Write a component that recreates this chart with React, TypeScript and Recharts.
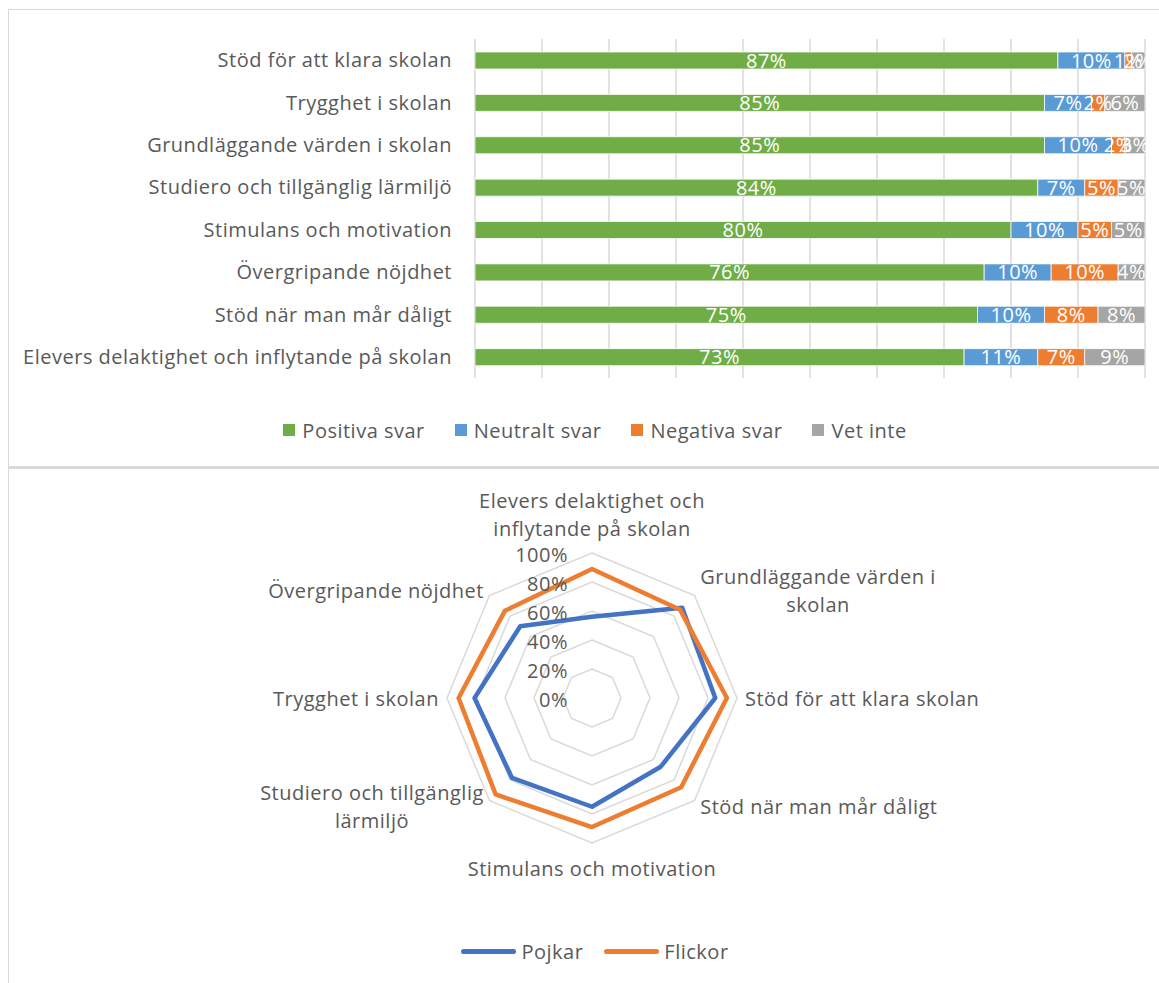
import React from "react";
import {
  Bar,
  BarChart,
  CartesianGrid,
  LabelList,
  PolarAngleAxis,
  PolarGrid,
  PolarRadiusAxis,
  Radar,
  RadarChart,
  XAxis,
  YAxis,
} from "recharts";

const FONT = '"Open Sans", "Liberation Sans", sans-serif';
const FS = 20;
const LS = 0.5;
const TEXT = "#595959";
const GRID = "#d9d9d9";

// --- stacked bar chart data (top to bottom) ---
const barCategories = [
  "Stöd för att klara skolan",
  "Trygghet i skolan",
  "Grundläggande värden i skolan",
  "Studiero och tillgänglig lärmiljö",
  "Stimulans och motivation",
  "Övergripande nöjdhet",
  "Stöd när man mår dåligt",
  "Elevers delaktighet och inflytande på skolan",
];
const positiva = [87, 85, 85, 84, 80, 76, 75, 73];
const neutralt = [10, 7, 10, 7, 10, 10, 10, 11];
const negativa = [1, 2, 2, 5, 5, 10, 8, 7];
const vetInte = [2, 6, 3, 5, 5, 4, 8, 9];
const xTicks = [0, 10, 20, 30, 40, 50, 60, 70, 80, 90, 100];

const barSeries = [
  { key: "positiva", name: "Positiva svar", color: "#70AD47" },
  { key: "neutralt", name: "Neutralt svar", color: "#5B9BD5" },
  { key: "negativa", name: "Negativa svar", color: "#ED7D31" },
  { key: "vetInte", name: "Vet inte", color: "#A5A5A5" },
];

// --- radar chart data (clockwise from top) ---
const radarCategories = [
  "Elevers delaktighet och inflytande på skolan",
  "Grundläggande värden i skolan",
  "Stöd för att klara skolan",
  "Stöd när man mår dåligt",
  "Stimulans och motivation",
  "Studiero och tillgänglig lärmiljö",
  "Trygghet i skolan",
  "Övergripande nöjdhet",
];
const pojkar = [56, 88, 85, 67, 75, 78, 81, 70];
const flickor = [89, 86, 93, 87, 89, 94, 92, 85];
const radarTicks = [0, 20, 40, 60, 80, 100];

// how the long axis labels wrap
const radarLabelLines: Record<string, string[]> = {
  "Elevers delaktighet och inflytande på skolan": [
    "Elevers delaktighet och",
    "inflytande på skolan",
  ],
  "Grundläggande värden i skolan": ["Grundläggande värden i", "skolan"],
  "Studiero och tillgänglig lärmiljö": ["Studiero och tillgänglig", "lärmiljö"],
};

const radarSeries = [
  { key: "pojkar", name: "Pojkar", color: "#4472C4" },
  { key: "flickor", name: "Flickor", color: "#ED7D31" },
];

const barData = barCategories.map((name, i) => ({
  name,
  positiva: positiva[i],
  neutralt: neutralt[i],
  negativa: negativa[i],
  vetInte: vetInte[i],
}));

const radarData = radarCategories.map((name, i) => ({
  name,
  pojkar: pojkar[i],
  flickor: flickor[i],
}));

let ctx: CanvasRenderingContext2D | null = null;
const measure = (t: string) => {
  if (!ctx) ctx = document.createElement("canvas").getContext("2d");
  if (!ctx) return t.length * FS * 0.5;
  ctx.font = `${FS}px ${FONT}`;
  return ctx.measureText(t).width + t.length * LS;
};

const AngleTick = (props: any) => {
  const { x, y, payload, textAnchor } = props;
  const lines = radarLabelLines[payload.value] ?? [payload.value];
  const lh = 28;
  const w = Math.max(...lines.map(measure));
  let mid = x;
  if (textAnchor === "start") mid = x + w / 2;
  if (textAnchor === "end") mid = x - w / 2;
  const s = Math.sin(((payload.coordinate ?? 0) * Math.PI) / 180);
  let y0 = y - ((lines.length - 1) * lh) / 2;
  if (s > 0.99) y0 = y - 17 - (lines.length - 1) * lh;
  if (s < -0.99) y0 = y + 17;
  return (
    <text
      textAnchor="middle"
      fill={TEXT}
      fontSize={FS}
      fontFamily={FONT}
      dominantBaseline="central"
    >
      {lines.map((l: string, i: number) => (
        <tspan key={i} x={mid} y={y0 + i * lh}>
          {l}
        </tspan>
      ))}
    </text>
  );
};

const RadiusTick = (props: any) => {
  const { x, y, payload } = props;
  return (
    <text
      x={x - 24}
      y={y + 1}
      textAnchor="end"
      dominantBaseline="central"
      fill={TEXT}
      fontSize={FS}
      fontFamily={FONT}
    >
      {payload.value}%
    </text>
  );
};

const boxStyle: React.CSSProperties = {
  position: "absolute",
  left: 0,
  width: 1174,
  border: `1px solid ${GRID}`,
  boxSizing: "border-box",
  background: "#fff",
};

export default function App() {
  return (
    <div
      style={{
        position: "absolute",
        left: 8,
        top: 8,
        width: 1151,
        height: 975,
        overflow: "hidden",
        fontFamily: FONT,
        letterSpacing: LS,
      }}
    >
      <div style={{ ...boxStyle, top: 1, height: 459, borderBottomWidth: 2 }} />
      <div style={{ ...boxStyle, top: 460, height: 600 }} />

      <div style={{ position: "absolute", left: 0, top: 0 }}>
        <BarChart
          layout="vertical"
          width={1174}
          height={460}
          data={barData}
          margin={{ top: 31, right: 37, bottom: 90, left: 0 }}
          barSize={17}
        >
          <CartesianGrid horizontal={false} stroke={GRID} strokeWidth={1.5} />
          <XAxis
            type="number"
            domain={[0, 100]}
            ticks={xTicks}
            allowDataOverflow
            hide
          />
          <YAxis
            type="category"
            dataKey="name"
            width={467}
            axisLine={false}
            tickLine={false}
            tickMargin={17}
            interval={0}
            tick={{ fill: TEXT, fontSize: FS, fontFamily: FONT }}
          />
          {barSeries.map((s) => (
            <Bar
              key={s.key}
              dataKey={s.key}
              name={s.name}
              stackId="a"
              fill={s.color}
              stroke="#fff"
              strokeWidth={0.75}
              isAnimationActive={false}
            >
              <LabelList
                dataKey={s.key}
                position="center"
                formatter={(v: any) => `${v}%`}
                fill="#fff"
                fontSize={FS}
                fontFamily={FONT}
              />
            </Bar>
          ))}
        </BarChart>
      </div>

      <div
        style={{
          position: "absolute",
          left: 0,
          top: 410,
          width: 1174,
          height: 24,
          display: "flex",
          justifyContent: "center",
          alignItems: "center",
          color: TEXT,
          fontSize: FS,
        }}
      >
        {barSeries.map((s, i) => (
          <div
            key={s.key}
            style={{
              display: "flex",
              alignItems: "center",
              marginLeft: i === 0 ? 0 : 30,
            }}
          >
            <span
              style={{
                width: 12,
                height: 12,
                background: s.color,
                marginRight: 7,
                display: "inline-block",
              }}
            />
            <span>{s.name}</span>
          </div>
        ))}
      </div>

      <div style={{ position: "absolute", left: 0, top: 460 }}>
        <RadarChart
          width={1174}
          height={515}
          data={radarData}
          cx={584}
          cy={230}
          outerRadius={145}
          startAngle={90}
          endAngle={-270}
          margin={{ top: 0, right: 0, bottom: 0, left: 0 }}
        >
          <PolarGrid
            gridType="polygon"
            radialLines={false}
            stroke={GRID}
            strokeWidth={1.5}
          />
          <PolarAngleAxis
            dataKey="name"
            tick={<AngleTick />}
            tickLine={false}
            axisLine={false}
          />
          <PolarRadiusAxis
            angle={90}
            domain={[0, 100]}
            ticks={radarTicks as any}
            tickCount={6}
            tick={<RadiusTick />}
            axisLine={false}
            tickLine={false}
          />
          {radarSeries.map((s) => (
            <Radar
              key={s.key}
              dataKey={s.key}
              name={s.name}
              stroke={s.color}
              strokeWidth={4.5}
              strokeLinejoin="round"
              fill="none"
              fillOpacity={0}
              dot={false}
              isAnimationActive={false}
            />
          ))}
        </RadarChart>
      </div>

      <div
        style={{
          position: "absolute",
          left: 0,
          top: 931,
          width: 1174,
          height: 24,
          display: "flex",
          justifyContent: "center",
          alignItems: "center",
          color: TEXT,
          fontSize: FS,
        }}
      >
        {radarSeries.map((s, i) => (
          <div
            key={s.key}
            style={{
              display: "flex",
              alignItems: "center",
              marginLeft: i === 0 ? 0 : 21,
            }}
          >
            <span
              style={{
                width: 55,
                height: 5,
                borderRadius: 3,
                background: s.color,
                marginRight: 5,
                display: "inline-block",
              }}
            />
            <span>{s.name}</span>
          </div>
        ))}
      </div>
    </div>
  );
}
